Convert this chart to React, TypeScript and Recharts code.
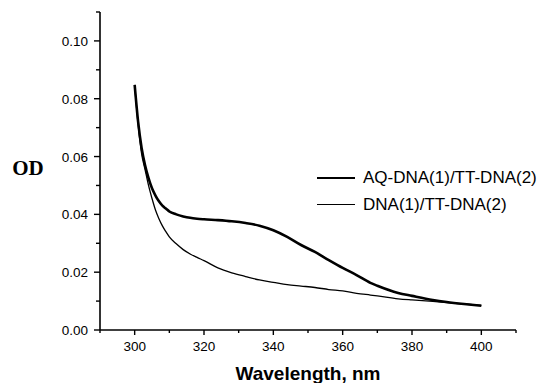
import React from 'react';
import { LineChart, Line, XAxis, YAxis, Legend } from 'recharts';

const wavelengths = [300, 301, 302, 303, 304, 305, 306, 307, 308, 309, 310, 312, 314, 316, 318, 320, 324, 328, 332, 336, 340, 344, 348, 352, 356, 360, 364, 368, 370, 376, 380, 386, 390, 395, 400];
const aqSeries = [0.0848, 0.072, 0.063, 0.057, 0.0525, 0.049, 0.0465, 0.0445, 0.043, 0.042, 0.041, 0.040, 0.0393, 0.0388, 0.0385, 0.0383, 0.0380, 0.0376, 0.0370, 0.0361, 0.0345, 0.0322, 0.0294, 0.0270, 0.0242, 0.0215, 0.0190, 0.0163, 0.0153, 0.0128, 0.0118, 0.0104, 0.0097, 0.0090, 0.0084];
const dnaSeries = [0.0848, 0.071, 0.061, 0.0555, 0.050, 0.0455, 0.0415, 0.0385, 0.036, 0.034, 0.0322, 0.0298, 0.0278, 0.0263, 0.0251, 0.0240, 0.0215, 0.0198, 0.0185, 0.0173, 0.0165, 0.0157, 0.0152, 0.0147, 0.0140, 0.0135, 0.0127, 0.0121, 0.0118, 0.0108, 0.0104, 0.0099, 0.0095, 0.0090, 0.0085];

const seriesNames = ['AQ-DNA(1)/TT-DNA(2)', 'DNA(1)/TT-DNA(2)'];
const xTicks = [290, 300, 310, 320, 330, 340, 350, 360, 370, 380, 390, 400, 410];
const xTickLabels = [300, 320, 340, 360, 380, 400];
const yTicks = [0, 0.01, 0.02, 0.03, 0.04, 0.05, 0.06, 0.07, 0.08, 0.09, 0.1, 0.11];

const data = wavelengths.map((w, i) => ({ w, aq: aqSeries[i], dna: dnaSeries[i] }));

const XTick = (props: any) => {
  const { x, y, payload } = props;
  const v = payload.value;
  const major = xTickLabels.includes(v);
  return (
    <g>
      <line x1={x} x2={x} y1={y} y2={y + (major ? 5 : 3)} stroke="#000" strokeWidth={1.4} />
      {major && (
        <text x={x} y={y + 21} textAnchor="middle" fontFamily="Liberation Sans, Arial, sans-serif" fontSize={13.5} fill="#000">
          {v}
        </text>
      )}
    </g>
  );
};

const YTick = (props: any) => {
  const { x, y, payload, index } = props;
  const major = index % 2 === 0;
  return (
    <g>
      <line x1={x} x2={x - (major ? 6 : 4)} y1={y} y2={y} stroke="#000" strokeWidth={1.4} />
      {major && (
        <text x={x - 12} y={y + 5} textAnchor="end" fontFamily="Liberation Sans, Arial, sans-serif" fontSize={13.5} fill="#000">
          {Number(payload.value).toFixed(2)}
        </text>
      )}
    </g>
  );
};

const LegendContent = () => (
  <div style={{ fontFamily: 'Liberation Sans, Arial, sans-serif', fontSize: 17, color: '#000', whiteSpace: 'nowrap' }}>
    <div style={{ display: 'flex', alignItems: 'center', height: 27 }}>
      <div style={{ width: 38, height: 0, borderTop: '2.6px solid #000', marginRight: 8 }} />
      <span>{seriesNames[0]}</span>
    </div>
    <div style={{ display: 'flex', alignItems: 'center', height: 27 }}>
      <div style={{ width: 38, height: 0, borderTop: '1.3px solid #000', marginRight: 8 }} />
      <span>{seriesNames[1]}</span>
    </div>
  </div>
);

export default function App() {
  return (
    <div style={{ position: 'absolute', left: 0, top: 0, width: 547, height: 383, background: '#fff' }}>
      <LineChart width={547} height={383} data={data} margin={{ top: 12, right: 31, bottom: 0, left: 0 }}>
        <XAxis
          dataKey="w"
          type="number"
          domain={[290, 410]}
          ticks={xTicks}
          interval={0}
          tickSize={0}
          tickMargin={0}
          tickLine={false}
          tick={<XTick />}
          height={53}
          axisLine={{ stroke: '#000', strokeWidth: 1.6 }}
          allowDataOverflow
          label={{
            content: () => (
              <text x={308} y={380} textAnchor="middle" fontFamily="Liberation Sans, Arial, sans-serif" fontWeight="bold" fontSize={19} fill="#000">
                Wavelength, nm
              </text>
            ),
          }}
        />
        <YAxis
          type="number"
          domain={[0, 0.11]}
          ticks={yTicks}
          interval={0}
          tickSize={0}
          tickMargin={0}
          tickLine={false}
          tick={<YTick />}
          width={100}
          axisLine={{ stroke: '#000', strokeWidth: 1.6 }}
          allowDataOverflow
          label={{
            content: () => (
              <text x={28} y={175} textAnchor="middle" fontFamily="Liberation Serif, Times New Roman, serif" fontWeight="bold" fontSize={21} fill="#000">
                OD
              </text>
            ),
          }}
        />
        <Legend
          layout="vertical"
          align="center"
          verticalAlign="middle"
          content={<LegendContent />}
          wrapperStyle={{ left: 317, top: 164, width: 230 }}
        />
        <Line type="monotone" dataKey="aq" name={seriesNames[0]} stroke="#000" strokeWidth={2.6} dot={false} isAnimationActive={false} />
        <Line type="monotone" dataKey="dna" name={seriesNames[1]} stroke="#000" strokeWidth={1.3} dot={false} isAnimationActive={false} />
      </LineChart>
    </div>
  );
}
